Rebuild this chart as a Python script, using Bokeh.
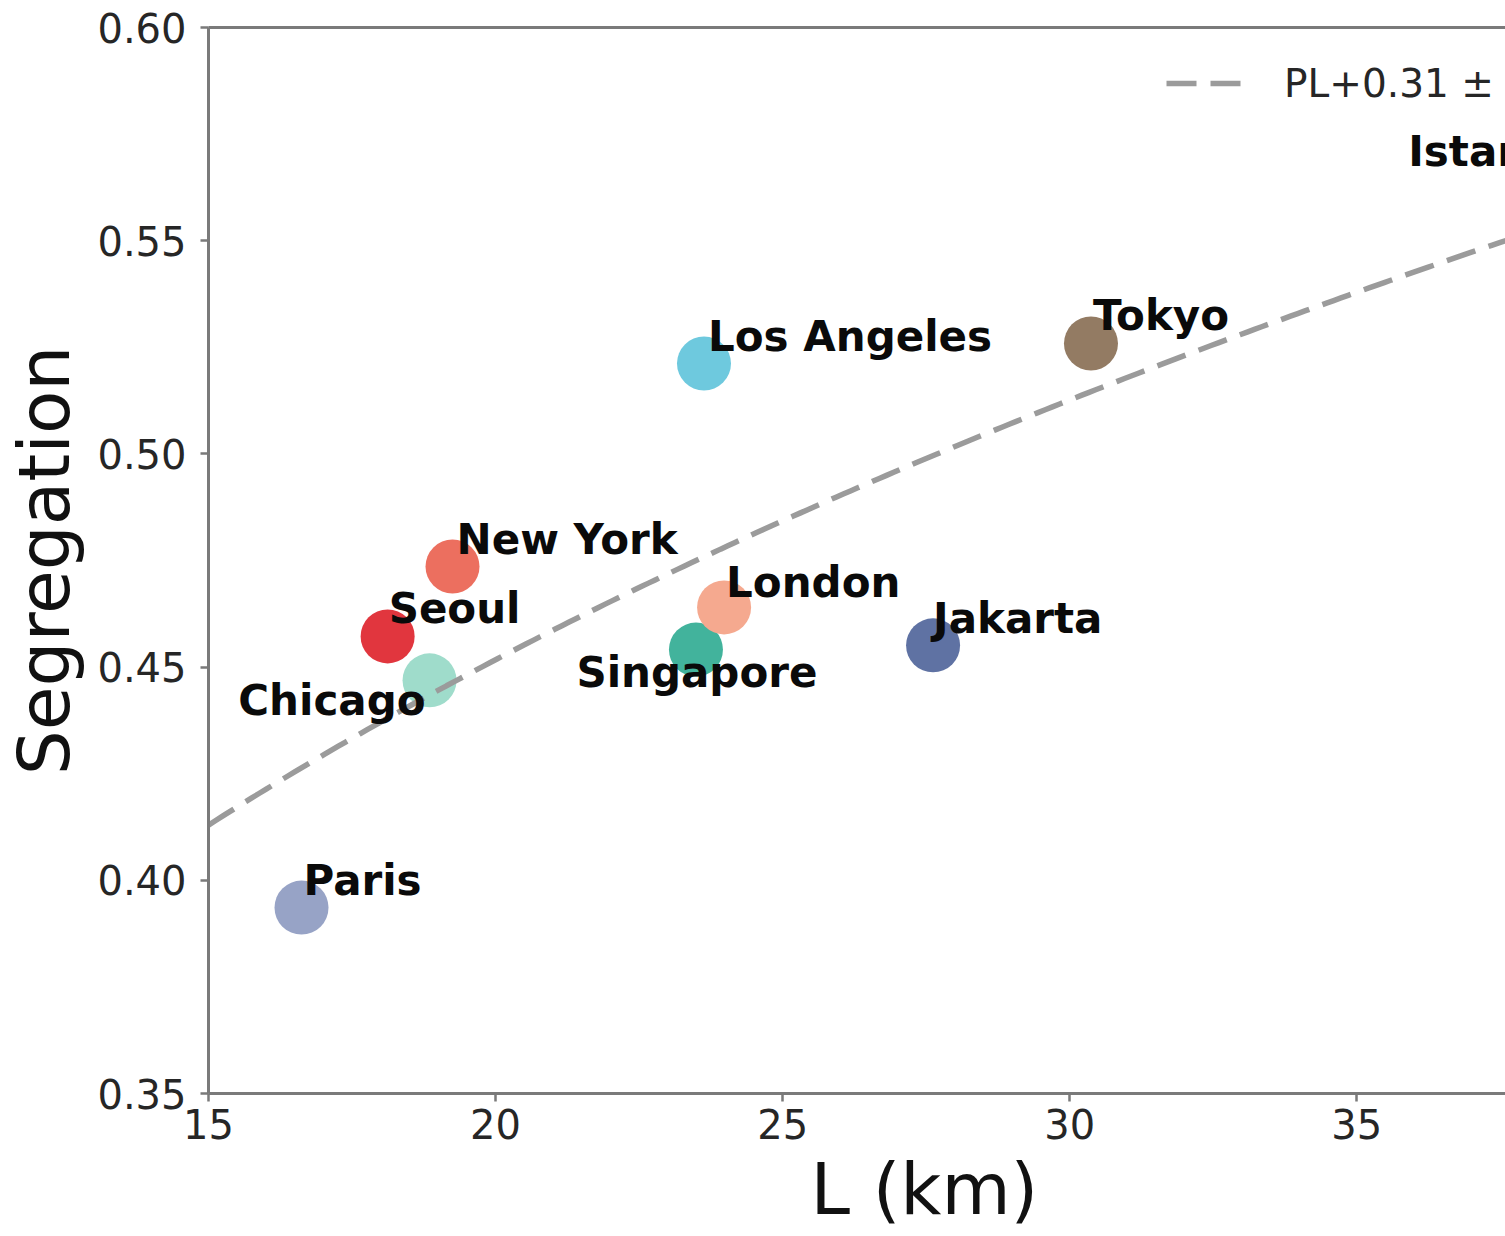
import numpy as np
from bokeh.plotting import figure
from bokeh.models import (ColumnDataSource, FixedTicker, LinearAxis, Legend,
                          LegendItem, Range1d, Title)
from bokeh.core.properties import value
from bokeh.embed import file_html
from bokeh.resources import INLINE

# ---------------- data ----------------
cities = ["Paris", "Seoul", "Chicago", "New York", "Los Angeles",
          "Singapore", "London", "Jakarta", "Tokyo", "Istanbul"]
L_km = [16.62, 18.12, 18.85, 19.25, 23.63, 23.49, 23.98, 27.62, 30.37, 39.35]
segregation = [0.3936, 0.4572, 0.4469, 0.4736, 0.5212,
               0.4541, 0.4640, 0.4551, 0.5259, 0.5756]

x_ticks = [15, 20, 25, 30, 35]
x_tick_labels = ["15", "20", "25", "30", "35"]
y_ticks = [0.35, 0.40, 0.45, 0.50, 0.55, 0.60]
y_tick_labels = ["0.35", "0.40", "0.45", "0.50", "0.55", "0.60"]

fit_prefactor = 0.1774
fit_exponent = 0.312
fit_label = "PL+0.31 \u00b1 0.02"

# ---------------- style ----------------
colors = ["#97a3c6", "#e1363e", "#9fdccb", "#ec6f5f", "#6ec9de",
          "#42b39c", "#f5a98f", "#5f72a3", "#937b63", "#b0b0b0"]
label_align = ["left", "left", "right", "left", "left",
               "center", "left", "left", "left", "right"]
label_dx = [2, 1, -4, 4, 4, 1, 2, 0, 2, -5]
label_dy = [-27, -28, 20, -27, -27, 23, -25, -27, -28, 20]

FONT = "DejaVu Sans"
SPINE = "#7a7a7a"

p = figure(width=1505, height=1236,
           x_range=Range1d(15, 37.59), y_range=Range1d(0.35, 0.60),
           output_backend="svg", toolbar_location=None,
           min_border_left=207, min_border_right=0,
           min_border_top=27, min_border_bottom=143)
p.outline_line_color = None
p.xgrid.visible = False
p.ygrid.visible = False
p.background_fill_color = "white"
p.border_fill_color = "white"

for ax, ticks, labels in ((p.xaxis[0], x_ticks, x_tick_labels),
                          (p.yaxis[0], y_ticks, y_tick_labels)):
    ax.ticker = FixedTicker(ticks=ticks)
    ax.major_label_overrides = {t: l for t, l in zip(ticks, labels)}
    ax.minor_tick_line_color = None
    ax.major_tick_out = 8
    ax.major_tick_in = 0
    ax.major_tick_line_color = SPINE
    ax.major_tick_line_width = 2.5
    ax.axis_line_color = SPINE
    ax.axis_line_width = 3
    ax.major_label_text_font = FONT
    ax.major_label_text_font_size = "40px"
    ax.major_label_text_color = "#262626"
    ax.axis_label_text_font = FONT
    ax.axis_label_text_font_size = "71px"
    ax.axis_label_text_font_style = "normal"
    ax.axis_label_text_color = "#111111"

p.yaxis.axis_label = "Segregation"
p.xaxis.major_label_standoff = 7
p.yaxis.major_label_standoff = 14
p.yaxis.axis_label_standoff = 8

xlab = Title(text="L (km)", align="left", offset=602, standoff=9,
             text_font=FONT, text_font_size="71px", text_font_style="normal",
             text_color="#111111")
p.add_layout(xlab, "below")

top = LinearAxis(ticker=FixedTicker(ticks=[]), axis_line_color=SPINE,
                 axis_line_width=3, major_tick_out=0, major_tick_in=0,
                 minor_tick_out=0, minor_tick_in=0, major_label_standoff=0)
p.add_layout(top, "above")

src = ColumnDataSource(dict(L=L_km, seg=segregation, city=cities, color=colors))
p.scatter(x="L", y="seg", size=54, fill_color="color", line_color=None,
          source=src)

L_fit = np.linspace(15, 40, 200)
S_fit = fit_prefactor * L_fit ** fit_exponent
fit_r = p.line(L_fit, S_fit, line_color="#9b9b9b", line_width=5.5,
               line_dash="30 14")

for al in ("left", "right", "center"):
    idx = [i for i, a in enumerate(label_align) if a == al]
    s = ColumnDataSource(dict(L=[L_km[i] for i in idx],
                              seg=[segregation[i] for i in idx],
                              city=[cities[i] for i in idx],
                              dx=[label_dx[i] for i in idx],
                              dy=[label_dy[i] for i in idx]))
    p.text(x="L", y="seg", text="city", x_offset="dx", y_offset="dy",
           source=s, text_align=al, text_baseline="alphabetic",
           text_font=value(FONT), text_font_style="bold",
           text_font_size="42px", text_color="#0a0a0a")

legend = Legend(items=[LegendItem(label=fit_label, renderers=[fit_r])],
                location=(958, 987), padding=0, margin=0, spacing=0,
                border_line_color=None, background_fill_alpha=0,
                glyph_width=80, glyph_height=46, label_height=46,
                label_standoff=38, label_text_font=FONT,
                label_text_font_size="39px", label_text_color="#262626")
p.add_layout(legend)

open("out.html", "w").write(file_html(p, INLINE))
